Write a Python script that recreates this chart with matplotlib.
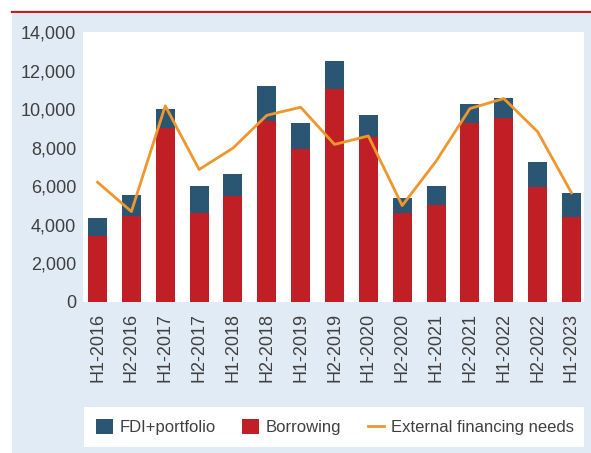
import matplotlib.pyplot as plt
from matplotlib.patches import Rectangle
from matplotlib.lines import Line2D

periods = ["H1-2016", "H2-2016", "H1-2017", "H2-2017", "H1-2018", "H2-2018",
           "H1-2019", "H2-2019", "H1-2020", "H2-2020", "H1-2021", "H2-2021",
           "H1-2022", "H2-2022", "H1-2023"]
borrowing = [3400, 4480, 9000, 4630, 5520, 9370, 7950, 11070, 8550, 4630,
             5050, 9280, 9530, 5950, 4430]
total = [4330, 5570, 9990, 5990, 6660, 11190, 9270, 12490, 9680, 5410,
         5990, 10250, 10570, 7240, 5670]
fdi_portfolio = [t - b for t, b in zip(total, borrowing)]
ext_needs = [6210, 4690, 10170, 6870, 7980, 9680, 10100, 8170, 8610, 5000,
             7300, 10030, 10550, 8830, 5660]

BLUE = "#2b5673"
RED = "#c01f26"
ORANGE = "#f0962d"
PANEL = "#e1ebf5"
TXT = "#404040"

plt.rcParams['font.family'] = ['Liberation Sans', 'DejaVu Sans']

fig = plt.figure(figsize=(5.91, 4.53), dpi=100)
fig.patch.set_facecolor("white")
# light blue panel and red top rule
fig.patches.append(Rectangle((12/591, 0), 1, 1 - 13.5/453, transform=fig.transFigure,
                             facecolor=PANEL, edgecolor="none", zorder=-2))
fig.add_artist(Line2D([12/591, 1], [1 - 12/453, 1 - 12/453], color=RED, lw=1.6))
# legend box
fig.patches.append(Rectangle((84/591, 1 - 447/453), 500/591, 40/453, transform=fig.transFigure,
                             facecolor="white", edgecolor="none", zorder=-1))

ax = fig.add_axes([83/591, 1 - 302/453, 501/591, 270/453])
ax.set_zorder(2)
x = range(len(periods))
b1 = ax.bar(x, borrowing, width=0.56, color=RED, zorder=2)
b2 = ax.bar(x, fdi_portfolio, width=0.56, bottom=borrowing, color=BLUE, zorder=2)
ln, = ax.plot(x, ext_needs, color=ORANGE, lw=2, zorder=3)

ax.set_xlim(-0.43, 14.37)
ax.set_ylim(0, 14000)
ax.set_yticks(range(0, 14001, 2000))
ax.set_yticklabels([f"{v:,}" for v in range(0, 14001, 2000)])
ax.set_xticks(list(x))
ax.set_xticklabels(periods, rotation=90)
ax.tick_params(length=0, labelsize=13, colors=TXT, pad=5)
ax.tick_params(axis='x', pad=8)
for s in ax.spines.values():
    s.set_visible(False)

fig.legend([b2, b1, ln], ["FDI+portfolio", "Borrowing", "External financing needs"],
           loc="center", bbox_to_anchor=(335/591, 1 - 427/453), ncol=3, frameon=False,
           fontsize=12, labelcolor=TXT, handlelength=1.0, handleheight=1.0,
           handletextpad=0.4, columnspacing=1.6)

fig.savefig("out.png", dpi=100)
